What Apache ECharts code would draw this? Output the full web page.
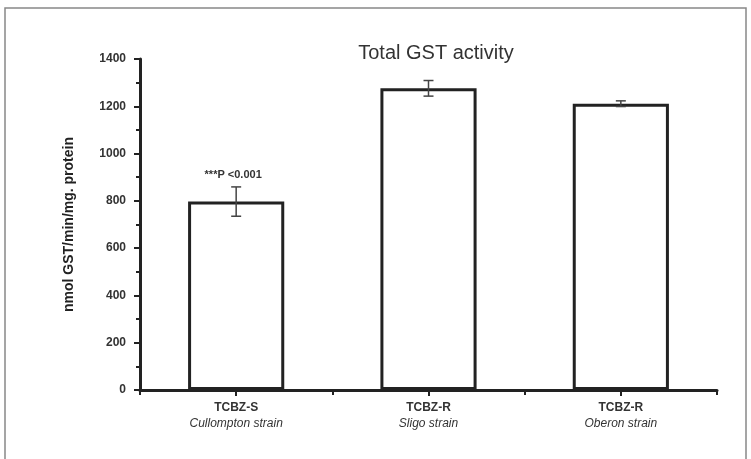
<!DOCTYPE html>
<html>
<head>
<meta charset="utf-8">
<script src="https://cdn.jsdelivr.net/npm/echarts@6/dist/echarts.min.js"></script>
<style>
html,body{margin:0;padding:0;background:#fff;}
#c{width:751px;height:459px;}
</style>
</head>
<body>
<div id="c"></div>
<script>
const categories = ['TCBZ-S', 'TCBZ-R', 'TCBZ-R'];
const strains = ['Cullompton strain', 'Sligo strain', 'Oberon strain'];
const means = [797, 1276, 1211];
const errors = [62, 33, 12];
const annotations = ['***P <0.001', '', ''];
const yTicks = { min: 0, max: 1400, interval: 200 };

const chart = echarts.init(document.getElementById('c'), null, { renderer: 'canvas' });
const FONT = '"Liberation Sans", Arial, sans-serif';
const dark = '#222';

const errData = means.map((m, i) => [i, m - errors[i], m + errors[i], annotations[i]]);

chart.setOption({
  animation: false,
  backgroundColor: '#fff',
  textStyle: { fontFamily: FONT },
  title: {
    text: 'Total GST activity',
    left: 431, top: 38, textAlign: 'center',
    textStyle: { fontFamily: FONT, fontSize: 20, fontWeight: 'normal', color: '#333' }
  },
  graphic: [{
    type: 'rect', shape: { x: 5, y: 8, width: 741, height: 470 },
    style: { fill: 'none', stroke: '#888', lineWidth: 1.5 }, silent: true, z: -1
  }],
  grid: { left: 140, right: 34, top: 59, bottom: 69 },
  xAxis: [{
    type: 'category', data: categories,
    axisLine: { lineStyle: { color: dark, width: 3 } },
    axisTick: { show: true, alignWithLabel: true, length: 6, lineStyle: { color: dark, width: 2 } },
    axisLabel: {
      margin: 10, interval: 0,
      formatter: (v, i) => '{a|' + v + '}\n{b|' + strains[i] + '}',
      rich: {
        a: { fontFamily: FONT, fontSize: 12, fontWeight: 'bold', color: '#333', lineHeight: 16 },
        b: { fontFamily: FONT, fontSize: 12, fontStyle: 'italic', color: '#333', lineHeight: 16 }
      }
    }
  }, {
    type: 'category', data: categories, position: 'bottom',
    axisLine: { show: false },
    axisTick: { show: true, length: 5, lineStyle: { color: dark, width: 2 } },
    axisLabel: { show: false }
  }],
  yAxis: {
    type: 'value', min: yTicks.min, max: yTicks.max, interval: yTicks.interval,
    name: 'nmol GST/min/mg. protein', nameLocation: 'middle', nameGap: 64,
    nameTextStyle: { fontFamily: FONT, fontSize: 14, fontWeight: 'bold', color: '#222' },
    axisLine: { show: true, lineStyle: { color: dark, width: 3 } },
    axisTick: { show: true, length: 6, lineStyle: { color: dark, width: 2 } },
    minorTick: { show: true, splitNumber: 2, length: 4, lineStyle: { color: dark, width: 2 } },
    splitLine: { show: false },
    axisLabel: { fontFamily: FONT, fontSize: 12, fontWeight: 'bold', color: '#333', margin: 14,
                 formatter: v => String(v) }
  },
  series: [{
    type: 'bar', data: means, barWidth: '50%', xAxisIndex: 0,
    itemStyle: { color: '#fff', borderColor: dark, borderWidth: 3 }
  }, {
    type: 'custom', xAxisIndex: 0, data: errData, z: 5,
    renderItem: function (params, api) {
      const x = api.coord([api.value(0), 0])[0];
      const lo = api.coord([api.value(0), api.value(1)])[1];
      const hi = api.coord([api.value(0), api.value(2)])[1];
      const cap = 5;
      const st = { stroke: '#444', lineWidth: 1.5 };
      const children = [
        { type: 'line', shape: { x1: x, y1: lo, x2: x, y2: hi }, style: st },
        { type: 'line', shape: { x1: x - cap, y1: lo, x2: x + cap, y2: lo }, style: st },
        { type: 'line', shape: { x1: x - cap, y1: hi, x2: x + cap, y2: hi }, style: st }
      ];
      const note = annotations[params.dataIndex];
      if (note) {
        children.push({
          type: 'text',
          style: { text: note, x: x - 3, y: hi - 12, align: 'center', verticalAlign: 'middle',
                   font: 'bold 11px ' + FONT, fill: '#333' }
        });
      }
      return { type: 'group', children: children };
    }
  }]
});
</script>
</body>
</html>
